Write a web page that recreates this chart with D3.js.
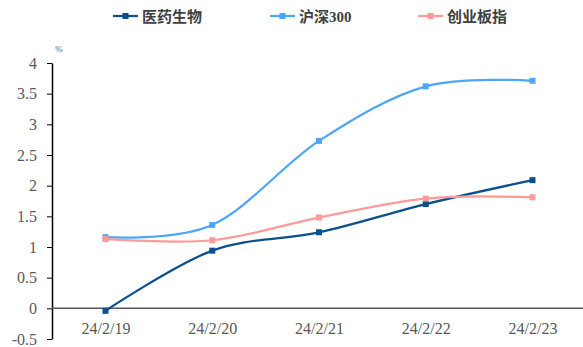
<!DOCTYPE html>
<html>
<head>
<meta charset="utf-8">
<script src="https://cdn.jsdelivr.net/npm/d3@7/dist/d3.min.js"></script>
<style>
  html, body { margin: 0; padding: 0; background: #fff; }
  svg { display: block; }
</style>
</head>
<body>
<div id="chart"></div>
<script>
// Daily cumulative change (%) over one trading week
const dates = ["24/2/19", "24/2/20", "24/2/21", "24/2/22", "24/2/23"];
const pharma = [-0.04, 0.94, 1.24, 1.70, 2.09];   // 医药生物
const csi300 = [1.16, 1.36, 2.73, 3.62, 3.71];    // 沪深300
const chinext = [1.13, 1.11, 1.48, 1.79, 1.81];   // 创业板指
const yTicks = [-0.5, 0, 0.5, 1, 1.5, 2, 2.5, 3, 3.5, 4];

const seriesNames = ["医药生物", "沪深300", "创业板指"];
const seriesValues = [pharma, csi300, chinext];
const seriesColors = ["#0B4F8E", "#4DA6FA", "#FF9A9A"];

const W = 583, H = 347;
const svg = d3.select("#chart").append("svg")
  .attr("width", W).attr("height", H);

const x = d3.scalePoint().domain(dates).range([105.5, 532.5]);
const y = d3.scaleLinear().domain([-0.5, 4]).range([339, 63]);
const axisX0 = 52;

const latin = "'Liberation Serif', 'Times New Roman', serif";

// Y axis
const yAxis = svg.append("g")
  .attr("transform", `translate(${axisX0},0)`)
  .call(d3.axisLeft(y).tickValues(yTicks).tickSize(5).tickSizeOuter(0)
    .tickPadding(10).tickFormat(d => String(d)));
yAxis.select(".domain").attr("stroke", "#000").attr("stroke-width", 1.5);
yAxis.selectAll(".tick line").attr("stroke", "#000").attr("stroke-width", 1);
yAxis.selectAll(".tick text")
  .attr("fill", "#595959")
  .style("font-family", latin)
  .style("font-size", "16px");

// Unit label
svg.append("text")
  .attr("x", 59).attr("y", 52)
  .attr("text-anchor", "middle")
  .attr("fill", "#595959")
  .style("font-family", latin)
  .style("font-size", "9px")
  .text("%");

// X axis along zero
const xAxis = svg.append("g")
  .attr("transform", `translate(0,${y(0)})`)
  .call(d3.axisBottom(x).tickSize(0).tickPadding(14));
xAxis.select(".domain").attr("d", `M${axisX0},0H${W}`)
  .attr("stroke", "#595959").attr("stroke-width", 1.5);
xAxis.selectAll(".tick text")
  .attr("fill", "#595959")
  .style("font-family", latin)
  .style("font-size", "16px");

// Lines with square markers
const line = d3.line()
  .x((d, i) => x(dates[i]))
  .y(d => y(d))
  .curve(d3.curveCatmullRom.alpha(0));

seriesValues.forEach((vals, si) => {
  svg.append("path")
    .datum(vals)
    .attr("fill", "none")
    .attr("stroke", seriesColors[si])
    .attr("stroke-width", 2.25)
    .attr("d", line);
});
seriesValues.forEach((vals, si) => {
  svg.selectAll(null)
    .data(vals)
    .enter().append("rect")
    .attr("x", (d, i) => x(dates[i]) - 3)
    .attr("y", d => y(d) - 3)
    .attr("width", 6).attr("height", 6)
    .attr("fill", seriesColors[si]);
});

// Legend
const legendX = [113, 270, 418];
const legend = svg.append("g");
seriesNames.forEach((name, i) => {
  const g = legend.append("g").attr("transform", `translate(${legendX[i]},16)`);
  g.append("line").attr("x1", 0).attr("x2", 25).attr("y1", 0).attr("y2", 0)
    .attr("stroke", seriesColors[i]).attr("stroke-width", 2.25);
  g.append("rect").attr("x", 9.5).attr("y", -3).attr("width", 6).attr("height", 6)
    .attr("fill", seriesColors[i]);
  g.append("text")
    .attr("x", 29).attr("y", 5.5)
    .attr("fill", "#404040")
    .style("font-family", "'Liberation Serif', 'Noto Sans CJK SC', serif")
    .style("font-weight", "bold")
    .style("font-size", "15px")
    .text(name);
});
</script>
</body>
</html>
